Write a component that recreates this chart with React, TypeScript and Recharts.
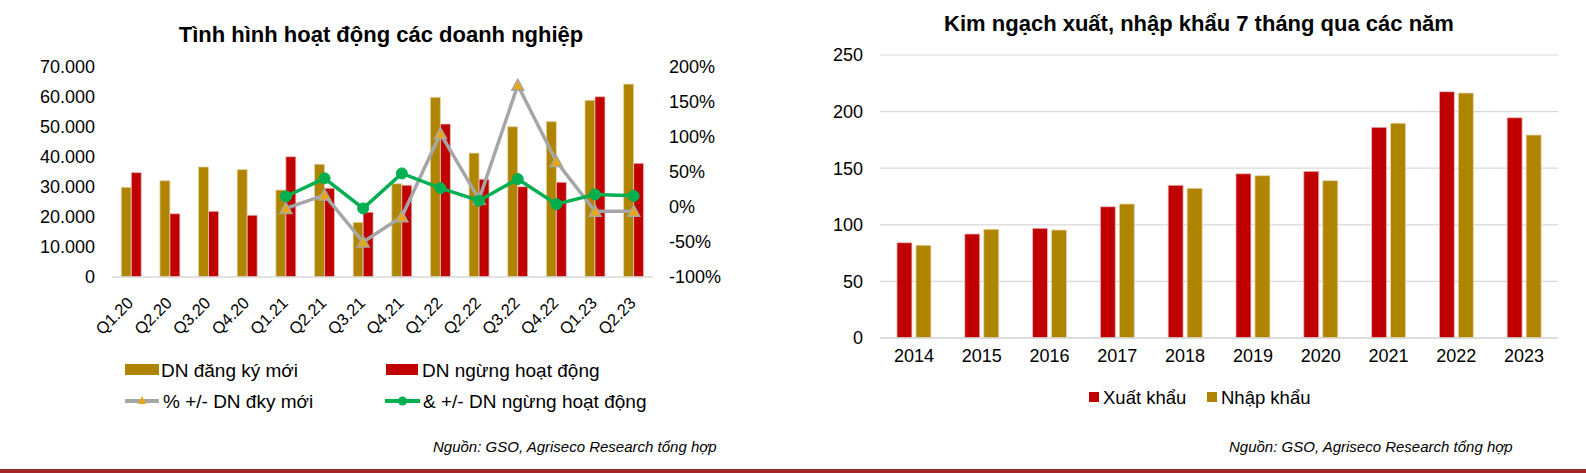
import React from 'react';
import {
  ComposedChart,
  BarChart,
  Bar,
  Line,
  XAxis,
  YAxis,
  CartesianGrid,
} from 'recharts';

// Biểu đồ trái: tình hình hoạt động doanh nghiệp
const quarters = ['Q1.20', 'Q2.20', 'Q3.20', 'Q4.20', 'Q1.21', 'Q2.21', 'Q3.21', 'Q4.21', 'Q1.22', 'Q2.22', 'Q3.22', 'Q4.22', 'Q1.23', 'Q2.23'];
const dnNew = [29900, 32100, 36700, 35800, 29000, 37600, 18200, 31100, 59900, 41300, 50100, 51800, 58900, 64300];
const dnStop = [34800, 21100, 21900, 20600, 40100, 29600, 21600, 30600, 51000, 32600, 30100, 31600, 60100, 37900];
const pctNew = [null, null, null, null, -0.02, 0.17, -0.5, -0.14, 1.05, 0.11, 1.74, 0.65, -0.06, -0.06];
const pctStop = [null, null, null, null, 0.15, 0.41, -0.02, 0.48, 0.27, 0.09, 0.4, 0.04, 0.18, 0.16];
const leftTicks = [0, 10000, 20000, 30000, 40000, 50000, 60000, 70000];
const pctTicks = [-1, -0.5, 0, 0.5, 1, 1.5, 2];

// Biểu đồ phải: kim ngạch xuất nhập khẩu 7 tháng
const years = ['2014', '2015', '2016', '2017', '2018', '2019', '2020', '2021', '2022', '2023'];
const exportsVal = [84.2, 91.9, 96.9, 116.0, 134.9, 145.1, 147.2, 186.1, 217.6, 194.6];
const importsVal = [81.9, 96.0, 95.4, 118.4, 132.2, 143.4, 139.0, 189.7, 216.4, 179.3];
const rightTicks = [0, 50, 100, 150, 200, 250];

const GOLD = '#AF8500';
const RED = '#C00000';
const GRAY = '#A6A6A6';
const GREEN = '#00B050';
const FONT = '"Liberation Sans", Arial, sans-serif';

const leftData = quarters.map((q, i) => ({
  q,
  dnNew: dnNew[i],
  dnStop: dnStop[i],
  pctNew: pctNew[i],
  pctStop: pctStop[i],
}));

const rightData = years.map((y, i) => ({ y, xk: exportsVal[i], nk: importsVal[i] }));

const fmtThousand = (v: number) => String(v).replace(/\B(?=(\d{3})+(?!\d))/g, '.');
const fmtPct = (v: number) => `${Math.round(v * 100)}%`;

const QuarterTick = (props: any) => {
  const { x, y, payload } = props;
  return (
    <text
      transform={`translate(${x + 3},${y + 27}) rotate(-45)`}
      textAnchor="end"
      fontSize={16.5}
      fill="#000"
      fontFamily={FONT}
    >
      {payload.value}
    </text>
  );
};

const TriangleDot = (props: any) => {
  const { cx, cy, index } = props;
  if (cx == null || cy == null || props.value == null) return <g key={`t${index}`} />;
  return (
    <path
      key={`t${index}`}
      d={`M${cx},${cy - 6} L${cx + 6},${cy + 5} L${cx - 6},${cy + 5} Z`}
      fill="#E6A817"
      stroke={GRAY}
      strokeWidth={1.5}
    />
  );
};

const tickStyle = { fontSize: 18, fill: '#000', fontFamily: FONT };

const App: React.FC = () => {
  return (
    <div
      style={{
        position: 'absolute',
        left: 0,
        top: 0,
        width: 1586,
        height: 473,
        background: '#fff',
        fontFamily: FONT,
        overflow: 'hidden',
      }}
    >
      {/* tiêu đề */}
      <div style={{ position: 'absolute', left: 81, width: 600, top: 22, textAlign: 'center', fontWeight: 'bold', fontSize: 22, whiteSpace: 'nowrap' }}>
        Tình hình hoạt động các doanh nghiệp
      </div>
      <div style={{ position: 'absolute', left: 899, width: 600, top: 11, textAlign: 'center', fontWeight: 'bold', fontSize: 22, whiteSpace: 'nowrap' }}>
        Kim ngạch xuất, nhập khẩu 7 tháng qua các năm
      </div>

      <div style={{ position: 'absolute', left: 0, top: 0 }}>
        <ComposedChart
          width={760}
          height={473}
          data={leftData}
          margin={{ top: 67, right: 17, bottom: 136, left: 52 }}
          barCategoryGap="24%"
          barGap={0}
        >
          <XAxis
            dataKey="q"
            height={60}
            interval={0}
            tick={<QuarterTick />}
            tickLine={false}
            tickSize={0}
            tickMargin={0}
            axisLine={{ stroke: '#D9D9D9', strokeWidth: 1.5 }}
          />
          <YAxis
            yAxisId="l"
            width={60}
            domain={[0, 70000]}
            ticks={leftTicks}
            tickFormatter={fmtThousand}
            axisLine={false}
            tickLine={false}
            tickSize={0}
            tickMargin={17}
            tick={tickStyle}
          />
          <YAxis
            yAxisId="r"
            orientation="right"
            width={90}
            domain={[-1, 2]}
            ticks={pctTicks}
            tickFormatter={fmtPct}
            axisLine={false}
            tickLine={false}
            tickSize={0}
            tickMargin={16}
            tick={{ ...tickStyle, textAnchor: 'start' }}
          />
          <Bar yAxisId="l" dataKey="dnNew" fill={GOLD} stroke="#E6D3B0" strokeWidth={0.8} isAnimationActive={false} />
          <Bar yAxisId="l" dataKey="dnStop" fill={RED} stroke="#EBC4C4" strokeWidth={0.8} isAnimationActive={false} />
          <Line
            yAxisId="r"
            dataKey="pctNew"
            stroke={GRAY}
            strokeWidth={3.5}
            dot={<TriangleDot />}
            isAnimationActive={false}
          />
          <Line
            yAxisId="r"
            dataKey="pctStop"
            stroke={GREEN}
            strokeWidth={3.5}
            dot={{ r: 5.5, fill: GREEN, stroke: GREEN, strokeWidth: 1 }}
            isAnimationActive={false}
          />
        </ComposedChart>
      </div>

      {/* chú giải trái */}
      <div style={{ position: 'absolute', left: 0, top: 0, fontSize: 19 }}>
        <div style={{ position: 'absolute', left: 125, top: 364, width: 34, height: 11, background: GOLD }} />
        <div style={{ position: 'absolute', left: 161, top: 359.5, whiteSpace: 'nowrap' }}>DN đăng ký mới</div>
        <div style={{ position: 'absolute', left: 386, top: 364, width: 32, height: 11, background: RED }} />
        <div style={{ position: 'absolute', left: 422, top: 359.5, whiteSpace: 'nowrap' }}>DN ngừng hoạt động</div>
        <svg style={{ position: 'absolute', left: 125, top: 394 }} width={36} height={14}>
          <line x1={0} y1={7} x2={34} y2={7} stroke={GRAY} strokeWidth={4} />
          <path d="M17,2 L21,10 L13,10 Z" fill="#E6A817" />
        </svg>
        <div style={{ position: 'absolute', left: 163, top: 391, whiteSpace: 'nowrap' }}>% +/- DN đky mới</div>
        <svg style={{ position: 'absolute', left: 385, top: 394 }} width={36} height={14}>
          <line x1={0} y1={7} x2={35} y2={7} stroke={GREEN} strokeWidth={4} />
          <circle cx={17.5} cy={7} r={4.5} fill={GREEN} />
        </svg>
        <div style={{ position: 'absolute', left: 423, top: 391, whiteSpace: 'nowrap' }}>&amp; +/- DN ngừng hoạt động</div>
      </div>

      <div style={{ position: 'absolute', left: 790, top: 0 }}>
        <BarChart
          width={796}
          height={473}
          data={rightData}
          margin={{ top: 55, right: 28, bottom: 105, left: 40 }}
          barCategoryGap="25%"
          barGap={4}
        >
          <CartesianGrid vertical={false} stroke="#D9D9D9" strokeWidth={1.2} />
          <XAxis
            dataKey="y"
            height={30}
            interval={0}
            tickLine={false}
            tickSize={0}
            tickMargin={11}
            axisLine={{ stroke: '#D9D9D9', strokeWidth: 1.5 }}
            tick={tickStyle}
          />
          <YAxis
            width={50}
            domain={[0, 250]}
            ticks={rightTicks}
            axisLine={false}
            tickLine={false}
            tickSize={0}
            tickMargin={17}
            tick={tickStyle}
          />
          <Bar dataKey="xk" fill={RED} stroke="#EBC4C4" strokeWidth={0.8} isAnimationActive={false} />
          <Bar dataKey="nk" fill={GOLD} stroke="#E6D3B0" strokeWidth={0.8} isAnimationActive={false} />
        </BarChart>
      </div>

      {/* chú giải phải */}
      <div style={{ position: 'absolute', left: 1089, top: 392, width: 10, height: 10, background: RED }} />
      <div style={{ position: 'absolute', left: 1103, top: 386.5, fontSize: 18.5, whiteSpace: 'nowrap' }}>Xuất khẩu</div>
      <div style={{ position: 'absolute', left: 1207, top: 392, width: 10, height: 10, background: GOLD }} />
      <div style={{ position: 'absolute', left: 1221, top: 386.5, fontSize: 18.5, whiteSpace: 'nowrap' }}>Nhập khẩu</div>

      {/* nguồn */}
      <div style={{ position: 'absolute', left: 433, top: 438, fontSize: 15, fontStyle: 'italic', whiteSpace: 'nowrap' }}>
        Nguồn: GSO, Agriseco Research tổng hợp
      </div>
      <div style={{ position: 'absolute', left: 1229, top: 438, fontSize: 15, fontStyle: 'italic', whiteSpace: 'nowrap' }}>
        Nguồn: GSO, Agriseco Research tổng hợp
      </div>

      <div style={{ position: 'absolute', left: 0, top: 469, width: 1586, height: 4, background: '#A0282C' }} />
    </div>
  );
};

export default App;
